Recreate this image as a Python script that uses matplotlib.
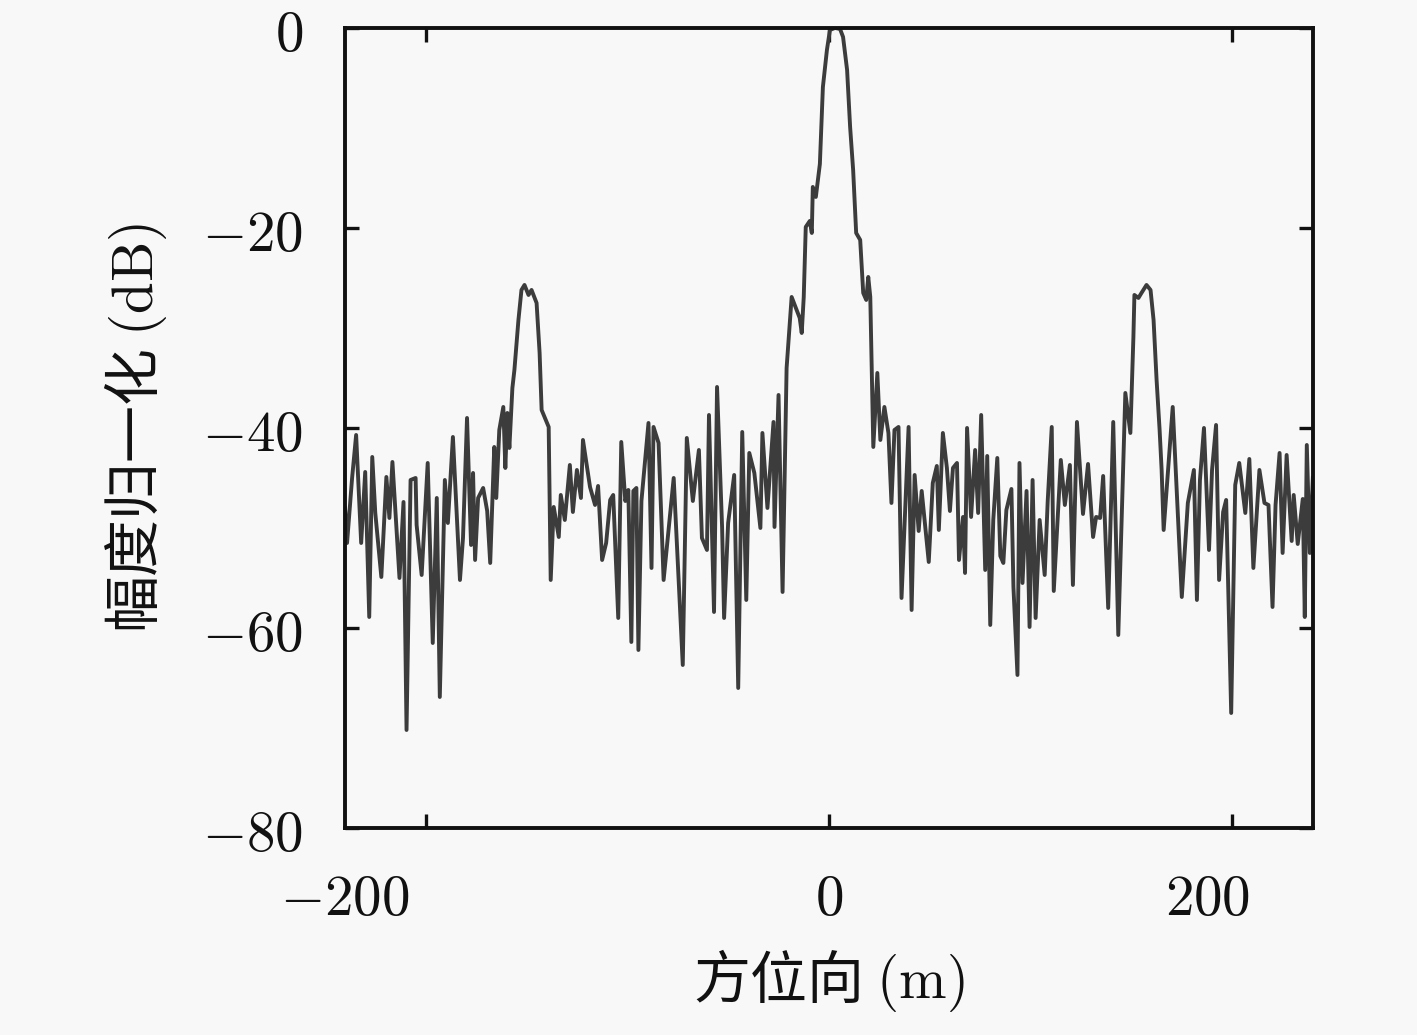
import matplotlib
matplotlib.use("Agg")
import matplotlib.pyplot as plt
from matplotlib.transforms import ScaledTranslation

plt.rcParams['font.family'] = ['Noto Sans CJK SC', 'DejaVu Sans']
plt.rcParams['mathtext.fontset'] = 'cm'

# azimuth position (m) and normalised amplitude (dB)
azimuth = [
    -240, -239, -236.5, -234.5, -232, -230, -228, -226.5, -225, -222, -219.5, -218, -216.5, -213, -211,
    -209.5, -207.5, -205, -204.5, -202, -199, -196.5, -194.5, -193, -190.5, -189, -186.5, -183, -181.5,
    -179.5, -177.5, -176.5, -175.5, -174, -171.5, -169.5, -168, -166, -165, -163.5, -161.5, -160.5,
    -159.5, -158.5,
    -157, -156, -154, -152.5, -151, -149, -147.5, -145, -143.5, -142.5, -139, -138,
    -136.5, -134, -133, -131, -128.5, -127, -125, -123, -122, -118.5, -116, -114.5, -112.5, -110.5,
    -108.5, -107, -104.5, -103, -101, -99.5, -98, -97, -95.5, -94.5, -93, -89.5, -88, -87, -84.5, -82,
    -77, -72.5, -70.5, -67.5, -64.5, -63, -60.5, -59.5, -57, -55.5, -53, -52, -50, -47, -45, -43, -41,
    -39.5, -37, -34, -33, -30.5, -27.5, -27, -25, -23, -21,
    -18.5, -16, -14.5, -13.5, -12.5, -11.5, -9.5, -8.5, -8, -6.5, -4.5, -3, -1, 0.5, 3, 5.5, 7, 9,
    10.5, 12, 13.5, 15.5, 17, 18.5, 19.5, 20.5, 22, 24, 25.5, 27.5, 29.5, 31, 32.5, 34.5,
    36, 39.5, 41, 42.5, 44.5, 46, 47.5, 49.5, 51.5, 53.5, 54.5, 56.5, 58.5, 60, 61.5, 63.5, 64.5, 66.5,
    67.5, 68.5, 70.5, 72.5, 74, 75.5, 77.5, 78.5, 80, 81.5, 83.5, 85, 86.5, 88, 90.5, 91.5, 93.5, 94.5,
    96, 98, 99.5, 101, 102.5, 104.5, 107, 108.5, 110.5, 111.5,
    115, 117, 119.5, 121, 123, 126, 128.5, 131, 132.5, 134.5, 136, 138.5, 141, 143.5, 147, 149.5,
    151, 151.5, 153.5, 155, 157.5, 159.5, 161, 162.5, 164, 165, 166,
    170.5, 175, 178, 181, 182.5, 184, 186, 188.5, 190, 192, 193.5, 195.5, 197, 199.5, 201.5, 203.5,
    206.5, 208.5, 210.5, 213.5, 216, 218, 220, 221.5, 223.5, 225, 227, 229.5, 230.5, 232.5, 235, 236,
    237, 238.5, 240,
]
amplitude = [
    -48, -51.5, -45, -40.7, -51.5, -44.4, -58.9, -42.9, -48.5, -54.9, -44.9, -49, -43.4, -55, -47.4,
    -70.2, -45.2, -45, -49.7, -54.7, -43.5, -61.5, -47, -66.9, -45.2, -49.5, -40.9, -55.2, -51,
    -39, -51.7, -44.5, -53.2, -47, -46, -48.3, -53.5, -41.9, -47, -40.2, -37.9, -44,
    -38.5, -42,
    -36, -34.2, -29.2, -26.2, -25.7, -26.7, -26.2, -27.5, -32.5, -38.2, -39.9, -55.2,
    -47.9, -50.9, -46.7, -49.2, -43.7, -48.4, -44.2, -47, -41.2, -45.9, -47.7, -45.8, -53.2, -51.5,
    -47.2, -46.7, -59, -41.4, -47.3, -46.2, -61.4, -46.3, -46, -62.2, -47.3, -39.5, -54, -39.9, -41.5, -55.2,
    -45, -63.7, -41, -47.3, -42.2, -51, -52.2, -38.7, -58.4, -35.9, -49.9, -59, -49.5, -44.7, -66, -40.4, -57.2,
    -42.5, -44.5, -50, -40.5, -48, -39.4, -49.9, -36.7, -56.4, -34,
    -26.9, -28.2, -29, -30.5, -26.9, -19.9, -19.3, -20.5, -15.9, -16.9, -13.6, -5.9, -2.2, -0.2, 0, -0.1, -0.9, -4.2,
    -9.9, -14.2, -20.5, -21.2, -26.5, -27.2, -24.9, -26.9, -41.9, -34.5, -41.2, -37.9, -40.5, -47.5, -40.2, -39.9,
    -57, -39.9, -58.2, -44.7, -50.3, -46.3, -49.3, -53.4, -45.5, -43.8, -50.2, -40.5, -44, -48.3, -44, -43.5, -53.2, -48.9,
    -54.5, -40, -48.9, -42.2, -48.5, -38.7, -54.2, -42.8, -59.7, -49.2, -43, -52.8, -53.5, -48.2, -46.1, -55.9, -64.7, -43.5,
    -55.5, -46.3, -59.9, -45.2, -59, -49.2, -54.7, -47.3, -39.9, -56.3,
    -43.2, -47.7, -43.7, -55.7, -39.4, -48.6, -43.6, -50.9, -48.9, -49, -44.8, -58, -39.4, -60.7, -36.5, -40.5,
    -30.9, -26.7, -27, -26.5, -25.7, -26.2, -29.2, -35.2, -40.2, -44.2, -50.2,
    -37.9, -56.9, -47.5, -44.2, -57.2, -45.2, -40, -52.2, -44.2, -39.7, -55.2, -48.4, -47.2, -68.5, -45.7, -43.5,
    -48.5, -43.1, -54, -44.2, -47.5, -47.7, -57.9, -47.7, -42.5, -52.5, -42.7, -51.3, -46.7, -51.6, -47.1, -58.9,
    -41.7, -52.5, -45,
]

xticks = [-200, 0, 200]
xtick_labels = [r'$-200$', r'$0$', r'$200$']
yticks = [0, -20, -40, -60, -80]
ytick_labels = [r'$0$', r'$-20$', r'$-40$', r'$-60$', r'$-80$']

bg = '#f8f8f8'
fig = plt.figure(figsize=(14.17, 10.35), dpi=100, facecolor=bg)
ax = fig.add_axes([0.2435, 0.2, 0.683, 0.773], facecolor=bg)

ax.plot(azimuth, amplitude, color='#3c3c3c', linewidth=2.8)

ax.set_xlim(-240, 240)
ax.set_ylim(-80, 0)
ax.set_xticks(xticks)
ax.set_xticklabels(xtick_labels)
ax.set_yticks(yticks)
ax.set_yticklabels(ytick_labels)
ax.tick_params(direction='in', length=10, width=2.4, top=True, right=True,
               labelsize=41, colors='#111111')
ax.tick_params(axis='x', pad=30)
ax.tick_params(axis='y', pad=30)
for s in ax.spines.values():
    s.set_linewidth(2.8)
    s.set_color('#111111')

# the x tick labels sit left of their ticks in the original
for lab, dx in zip(ax.get_xticklabels(), [-81, 0, -25]):
    lab.set_transform(lab.get_transform() + ScaledTranslation(dx / 100, 0, fig.dpi_scale_trans))

ax.set_xlabel(r'方位向 $(\mathrm{m})$', fontsize=41, labelpad=14, color='#111111')
ax.set_ylabel(r'幅度归一化 $(\mathrm{dB})$', fontsize=41, labelpad=24, color='#111111')

fig.savefig('out.png', dpi=100, facecolor=bg)
